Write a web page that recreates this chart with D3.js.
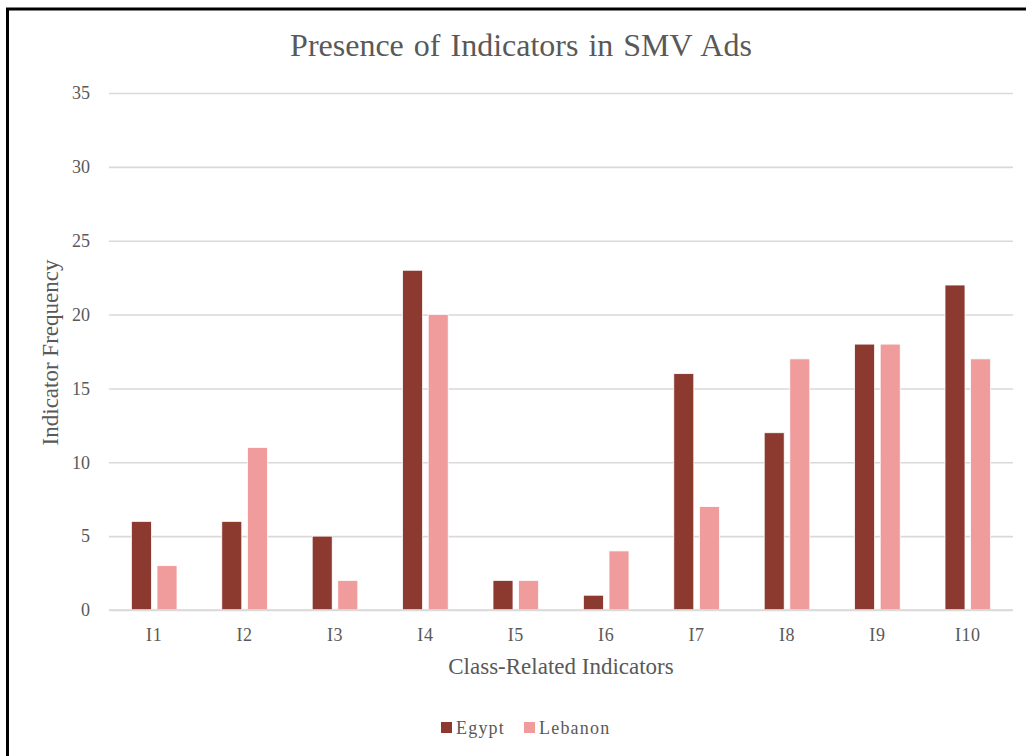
<!DOCTYPE html>
<html>
<head>
<meta charset="utf-8">
<script src="https://cdn.jsdelivr.net/npm/d3@7"></script>
<style>
  html, body { margin: 0; padding: 0; background: #ffffff; }
  svg { display: block; }
  text { font-family: "Liberation Serif", "Times New Roman", serif; fill: #595959; }
</style>
</head>
<body>
<svg id="chart" width="1026" height="756"></svg>
<script>
// Indicator categories and frequency counts per country
const categories = ["I1", "I2", "I3", "I4", "I5", "I6", "I7", "I8", "I9", "I10"];
const egypt   = [6, 6, 5, 23, 2, 1, 16, 12, 18, 22];
const lebanon = [3, 11, 2, 20, 2, 4, 7, 17, 18, 17];
const seriesNames = ["Egypt", "Lebanon"];
const yTicks = [0, 5, 10, 15, 20, 25, 30, 35];

const colors = { Egypt: "#8C3A30", Lebanon: "#F19C9C" };

const svg = d3.select("#chart");
const W = 1026, H = 756;

// Outer frame (runs off the right and bottom edges)
svg.append("rect")
  .attr("x", 7.5).attr("y", 9)
  .attr("width", W + 20).attr("height", H + 20)
  .attr("fill", "#ffffff")
  .attr("stroke", "#000000").attr("stroke-width", 3);

const plot = { left: 109, right: 1013, top: 93, bottom: 610 };

const x = d3.scaleBand()
  .domain(categories)
  .range([plot.left, plot.right])
  .paddingInner(0).paddingOuter(0);

const y = d3.scaleLinear().domain([0, 35]).range([plot.bottom, plot.top]);

// Horizontal gridlines and value labels
const yAxis = d3.axisLeft(y).tickValues(yTicks).tickSize(-(plot.right - plot.left)).tickPadding(19);
const gy = svg.append("g").attr("transform", `translate(${plot.left},0)`).call(yAxis);
gy.select(".domain").remove();
gy.selectAll(".tick line").attr("stroke", "#d9d9d9").attr("stroke-width", 1.6);
gy.selectAll(".tick text")
  .attr("font-size", 18).attr("fill", "#595959")
  .style("font-family", "Liberation Serif, serif");

// Grouped bars
const inner = d3.scaleBand().domain(seriesNames).range([0, x.bandwidth()]).paddingInner(0.22).paddingOuter(0.875);

const rows = categories.map((c, i) => ({ cat: c, values: [
  { name: "Egypt", v: egypt[i] },
  { name: "Lebanon", v: lebanon[i] }
]}));

const groups = svg.append("g").selectAll("g").data(rows).join("g")
  .attr("transform", d => `translate(${x(d.cat)},0)`);

groups.selectAll("rect").data(d => d.values).join("rect")
  .attr("x", d => inner(d.name))
  .attr("width", inner.bandwidth())
  .attr("y", d => y(d.v))
  .attr("height", d => y(0) - y(d.v))
  .attr("fill", d => colors[d.name])
  .attr("stroke", "#ffffff").attr("stroke-width", 0.75);

// Baseline redrawn over bar bottoms
svg.append("line")
  .attr("x1", plot.left).attr("x2", plot.right)
  .attr("y1", y(0)).attr("y2", y(0))
  .attr("stroke", "#d9d9d9").attr("stroke-width", 1.6);

// Category labels
const xAxis = d3.axisBottom(x).tickSize(0).tickPadding(0);
const gx = svg.append("g").attr("transform", `translate(0,${plot.bottom})`).call(xAxis);
gx.select(".domain").remove();
gx.selectAll(".tick text")
  .attr("dy", null).attr("y", 31)
  .attr("font-size", 18).attr("fill", "#595959")
  .attr("letter-spacing", 0.6)
  .style("font-family", "Liberation Serif, serif");

// Title
svg.append("text")
  .attr("x", 521).attr("y", 56)
  .attr("text-anchor", "middle")
  .attr("font-size", 32)
  .attr("word-spacing", 2)
  .text("Presence of Indicators in SMV Ads");

// Axis titles
svg.append("text")
  .attr("x", 561).attr("y", 674)
  .attr("text-anchor", "middle")
  .attr("font-size", 23)
  .text("Class-Related Indicators");

svg.append("text")
  .attr("transform", `translate(58,${(plot.top + plot.bottom) / 2 + 1}) rotate(-90)`)
  .attr("text-anchor", "middle")
  .attr("font-size", 23)
  .text("Indicator Frequency");

// Legend
const legendItems = [
  { name: "Egypt", x: 441 },
  { name: "Lebanon", x: 524 }
];
const lg = svg.append("g").selectAll("g").data(legendItems).join("g")
  .attr("transform", d => `translate(${d.x},722)`);
lg.append("rect").attr("width", 11).attr("height", 11).attr("fill", d => colors[d.name]);
lg.append("text")
  .attr("x", 15).attr("y", 12)
  .attr("font-size", 18)
  .attr("letter-spacing", 1.2)
  .text(d => d.name);
</script>
</body>
</html>
